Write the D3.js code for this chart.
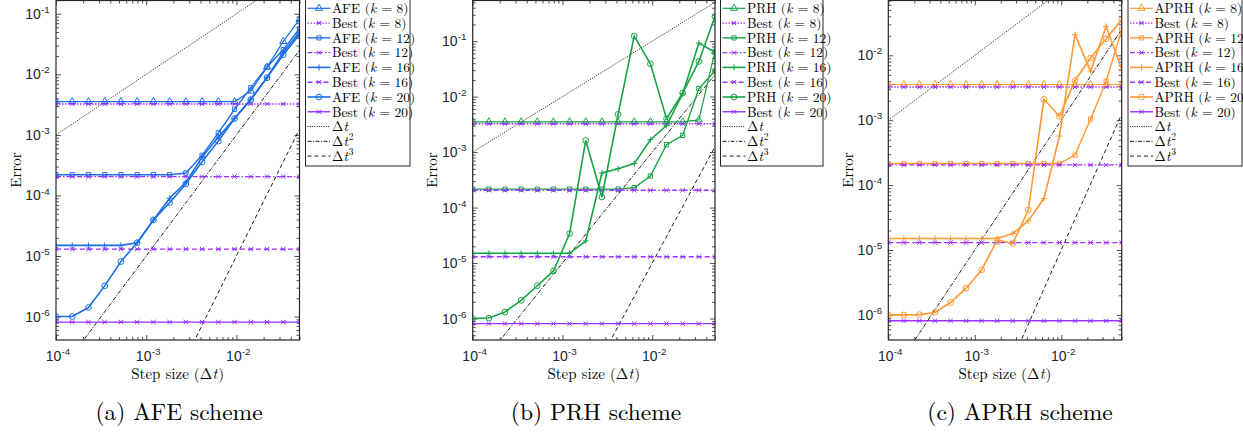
<!DOCTYPE html>
<html>
<head>
<meta charset="utf-8">
<script src="https://cdn.jsdelivr.net/npm/d3@7"></script>
<style>
  body { margin: 0; background: #fff; }
  svg { display: block; }
  .tlab { font-family: "Liberation Sans", Arial, sans-serif; fill: #262626; }
  .serif { font-family: "Latin Modern Roman", "CMU Serif", "Liberation Serif", serif; fill: #000; }
</style>
</head>
<body>
<svg id="fig" width="1243" height="436"></svg>
<script>
// step sizes (dt), 16 points from 1e-4 to 5e-2
var stepSizes = [1.0e-4, 1.513e-4, 2.290e-4, 3.465e-4, 5.244e-4, 7.936e-4, 1.201e-3, 1.817e-3,
                 2.750e-3, 4.162e-3, 6.298e-3, 9.533e-3, 1.443e-2, 2.183e-2, 3.304e-2, 5.0e-2];

var kValues = [8, 12, 16, 20];
// "Best" error level for each k (horizontal lines)
var bestLevels = [3.25e-3, 2.05e-4, 1.3e-5, 8.1e-7];
// reference slopes: 10 * dt^p
var refOrders = [1, 2, 3];
var refCoef = 10;

// AFE scheme
var afe8  = [3.55e-3, 3.55e-3, 3.55e-3, 3.55e-3, 3.55e-3, 3.55e-3, 3.55e-3, 3.55e-3,
             3.55e-3, 3.55e-3, 3.55e-3, 3.55e-3, 5.3e-3, 1.32e-2, 3.5e-2, 8.1e-2];
var afe12 = [2.2e-4, 2.2e-4, 2.2e-4, 2.2e-4, 2.2e-4, 2.2e-4, 2.2e-4, 2.2e-4,
             2.35e-4, 4.6e-4, 1.08e-3, 2.65e-3, 6.0e-3, 1.32e-2, 2.55e-2, 5.66e-2];
var afe16 = [1.5e-5, 1.5e-5, 1.5e-5, 1.5e-5, 1.5e-5, 1.66e-5, 3.94e-5, 9.0e-5,
             1.65e-4, 4.3e-4, 9.2e-4, 1.86e-3, 3.9e-3, 8.9e-3, 2.33e-2, 4.98e-2];
var afe20 = [1.0e-6, 1.0e-6, 1.41e-6, 3.21e-6, 8.1e-6, 1.66e-5, 3.94e-5, 7.6e-5,
             1.55e-4, 3.6e-4, 7.9e-4, 1.86e-3, 3.8e-3, 8.8e-3, 2.11e-2, 4.56e-2];

// PRH scheme
var prh8  = [3.5e-3, 3.5e-3, 3.5e-3, 3.5e-3, 3.5e-3, 3.5e-3, 3.5e-3, 3.5e-3,
             3.5e-3, 3.5e-3, 3.5e-3, 3.5e-3, 3.5e-3, 3.5e-3, 3.8e-3, 6.5e-2];
var prh12 = [2.15e-4, 2.15e-4, 2.15e-4, 2.15e-4, 2.15e-4, 2.15e-4, 2.15e-4, 2.15e-4,
             2.15e-4, 2.15e-4, 2.28e-4, 3.7e-4, 1.36e-3, 2.0e-3, 1.4e-2, 2.9e-2];
var prh16 = [1.5e-5, 1.5e-5, 1.5e-5, 1.5e-5, 1.5e-5, 1.5e-5, 1.5e-5, 2.5e-5,
             4.2e-4, 5.0e-4, 6.2e-4, 1.67e-3, 3.0e-3, 1.13e-2, 9.2e-2, 6.3e-2];
var prh20 = [1.0e-6, 1.02e-6, 1.31e-6, 2.13e-6, 3.9e-6, 7.2e-6, 3.4e-5, 1.62e-3,
             1.55e-4, 4.8e-3, 1.23e-1, 3.9e-2, 4.0e-3, 1.16e-2, 4.3e-2, 2.8e-1];

// APRH scheme
var aprh8  = [3.55e-3, 3.55e-3, 3.55e-3, 3.55e-3, 3.55e-3, 3.55e-3, 3.55e-3, 3.55e-3,
              3.55e-3, 3.55e-3, 3.55e-3, 3.55e-3, 3.55e-3, 3.55e-3, 3.55e-3, 3.55e-3];
var aprh12 = [2.15e-4, 2.15e-4, 2.15e-4, 2.15e-4, 2.15e-4, 2.15e-4, 2.15e-4, 2.15e-4,
              2.15e-4, 2.15e-4, 2.15e-4, 2.15e-4, 2.9e-4, 1.04e-3, 4.0e-3, 2.48e-2];
var aprh16 = [1.5e-5, 1.5e-5, 1.5e-5, 1.5e-5, 1.5e-5, 1.5e-5, 1.5e-5, 1.5e-5,
              1.8e-5, 2.8e-5, 6.2e-5, 5.7e-4, 2.08e-2, 5.7e-3, 2.8e-2, 6.1e-3];
var aprh20 = [1.0e-6, 1.0e-6, 1.01e-6, 1.09e-6, 1.55e-6, 2.58e-6, 4.92e-6, 1.43e-5,
              1.26e-5, 4.12e-5, 2.1e-3, 1.15e-3, 4.1e-3, 9.1e-3, 1.8e-2, 3.53e-2];

var purple = "#9933ff";
var axisColor = "#262626";

var panels = [
    {name: "AFE", color: "#1a6fe8", series: [afe8, afe12, afe16, afe20],
     left: 56, right: 299.5, yDomain: [4.1e-7, 0.166],
     legendX: 305.5, legendW: 104.5, caption: "(a) AFE scheme", capX: 179, ylabX: 16},
    {name: "PRH", color: "#17a345", series: [prh8, prh12, prh16, prh20],
     left: 472.7, right: 715, yDomain: [4.1e-7, 0.54],
     legendX: 720.5, legendW: 102.5, caption: "(b) PRH scheme", capX: 596, ylabX: 432},
    {name: "APRH", color: "#ff9933", series: [aprh8, aprh12, aprh16, aprh20],
     left: 888.3, right: 1121.7, yDomain: [4.1e-7, 0.07],
     legendX: 1128, legendW: 114, caption: "(c) APRH scheme", capX: 1020, ylabX: 848}
];

var plotTop = 0.5, plotBottom = 340;

var markerShapes = ["triangle", "square", "plus", "circle"];
var bestDash = ["1.5,1.5", "5,2,1.5,2", "5,3", null];
var methodWidth = [1.2, 1.4, 1.6, 1.6];
var refDash = ["1,1.3", "4,1.5,1,1.5", "4,3"];

var svg = d3.select("#fig");

function markerPath(shape) {
    if (shape === "triangle") return d3.symbol().type(d3.symbolTriangle).size(22)();
    if (shape === "square") return d3.symbol().type(d3.symbolSquare).size(18)();
    if (shape === "circle") return d3.symbol().type(d3.symbolCircle).size(26)();
    if (shape === "plus") return "M-3,0H3M0,-3V3";
    // best marker: small asterisk
    return "M-2.2,-2.2L2.2,2.2M-2.2,2.2L2.2,-2.2M-2.6,0H2.6";
}

// text made of pieces (italic / superscript), each piece its own <text>
function richText(parent, cls, x, y, anchor, size, pieces) {
    var grp = parent.append("g");
    var cx = 0;
    pieces.forEach(function (pc) {
        var fs = pc.sup ? size * 0.7 : size;
        var t = grp.append("text").attr("class", cls)
            .attr("x", cx).attr("y", pc.sup ? -size * 0.42 : 0)
            .attr("font-size", fs)
            .attr("font-style", pc.italic ? "italic" : null)
            .style("white-space", "pre")
            .text(pc.t);
        cx += t.node().getComputedTextLength() + (pc.italic ? 0.8 : 0.2);
    });
    var off = anchor === "end" ? -cx : anchor === "middle" ? -cx / 2 : 0;
    grp.attr("transform", "translate(" + (x + off) + "," + y + ")");
    return grp;
}

function drawPanel(p, idx) {
    var g = svg.append("g");
    var x = d3.scaleLog().domain([1e-4, 0.05]).range([p.left, p.right]);
    var y = d3.scaleLog().domain(p.yDomain).range([plotBottom, plotTop]);

    var clipId = "clip" + idx;
    svg.append("clipPath").attr("id", clipId).append("rect")
        .attr("x", p.left).attr("y", plotTop)
        .attr("width", p.right - p.left).attr("height", plotBottom - plotTop);

    // ticks
    var xt = x.ticks(), yt = y.ticks();
    var isMajor = function (v) { return Math.abs(Math.log10(v) - Math.round(Math.log10(v))) < 1e-9; };
    var xMaj = xt.filter(isMajor), xMin = xt.filter(function (v) { return !isMajor(v); });
    var yMaj = yt.filter(isMajor), yMin = yt.filter(function (v) { return !isMajor(v); });

    function addAxis(axis, vals, size, tr) {
        var a = g.append("g").attr("transform", tr)
            .call(axis.tickValues(vals).tickSize(size).tickFormat(""));
        a.select(".domain").remove();
        a.selectAll("line").attr("stroke", axisColor).attr("stroke-width", 0.8);
    }
    addAxis(d3.axisBottom(x), xMaj, -5, "translate(0," + plotBottom + ")");
    addAxis(d3.axisBottom(x), xMin, -3, "translate(0," + plotBottom + ")");
    addAxis(d3.axisTop(x), xMaj, -5, "translate(0," + plotTop + ")");
    addAxis(d3.axisTop(x), xMin, -3, "translate(0," + plotTop + ")");
    addAxis(d3.axisLeft(y), yMaj, -5, "translate(" + p.left + ",0)");
    addAxis(d3.axisLeft(y), yMin, -3, "translate(" + p.left + ",0)");
    addAxis(d3.axisRight(y), yMaj, -5, "translate(" + p.right + ",0)");
    addAxis(d3.axisRight(y), yMin, -3, "translate(" + p.right + ",0)");

    // tick labels
    xMaj.forEach(function (v) {
        richText(g, "tlab", x(v) + 2, plotBottom + 21, "middle", 14,
            [{t: "10"}, {t: String(Math.round(Math.log10(v))), sup: true}]);
    });
    yMaj.forEach(function (v) {
        richText(g, "tlab", p.left - 6, y(v) + 5, "end", 14,
            [{t: "10"}, {t: String(Math.round(Math.log10(v))), sup: true}]);
    });

    var plot = g.append("g").attr("clip-path", "url(#" + clipId + ")");
    var line = d3.line().x(function (d) { return x(d[0]); }).y(function (d) { return y(d[1]); });

    // reference slopes
    refOrders.forEach(function (o, i) {
        var pts = [stepSizes[0], stepSizes[stepSizes.length - 1]].map(function (s) {
            return [s, refCoef * Math.pow(s, o)];
        });
        plot.append("path").attr("d", line(pts)).attr("fill", "none")
            .attr("stroke", "#000").attr("stroke-width", 0.9)
            .attr("stroke-dasharray", refDash[i]);
    });

    // method and best series, in legend order
    kValues.forEach(function (k, i) {
        var mPts = stepSizes.map(function (s, j) { return [s, p.series[i][j]]; });
        var bPts = stepSizes.map(function (s) { return [s, bestLevels[i]]; });

        plot.append("path").attr("d", line(mPts)).attr("fill", "none")
            .attr("stroke", p.color).attr("stroke-width", methodWidth[i]);
        plot.selectAll(null).data(mPts).enter().append("path")
            .attr("transform", function (d) { return "translate(" + x(d[0]) + "," + y(d[1]) + ")"; })
            .attr("d", markerPath(markerShapes[i]))
            .attr("fill", "none").attr("stroke", p.color).attr("stroke-width", 1);

        plot.append("path").attr("d", line(bPts)).attr("fill", "none")
            .attr("stroke", purple).attr("stroke-width", 1.4)
            .attr("stroke-dasharray", bestDash[i]);
        plot.selectAll(null).data(bPts).enter().append("path")
            .attr("transform", function (d) { return "translate(" + x(d[0]) + "," + y(d[1]) + ")"; })
            .attr("d", markerPath("best"))
            .attr("fill", "none").attr("stroke", purple).attr("stroke-width", 1);
    });

    // frame
    g.append("rect").attr("x", p.left).attr("y", plotTop)
        .attr("width", p.right - p.left).attr("height", plotBottom - plotTop)
        .attr("fill", "none").attr("stroke", axisColor).attr("stroke-width", 1.2);

    // axis titles
    richText(g, "serif", (p.left + p.right) / 2, 379, "middle", 15,
        [{t: "Step size (\u0394"}, {t: "t", italic: true}, {t: ")"}]);

    g.append("text").attr("class", "serif").attr("text-anchor", "middle")
        .attr("font-size", 15)
        .attr("transform", "translate(" + (p.ylabX + 5) + ",170) rotate(-90)")
        .text("Error");

    // legend
    var lg = g.append("g");
    lg.append("rect").attr("x", p.legendX).attr("y", -1)
        .attr("width", p.legendW).attr("height", 167)
        .attr("fill", "#fff").attr("stroke", axisColor).attr("stroke-width", 1);

    var rows = [];
    kValues.forEach(function (k, i) {
        rows.push({label: p.name, k: k, color: p.color, dash: null, width: methodWidth[i], marker: markerShapes[i]});
        rows.push({label: "Best", k: k, color: purple, dash: bestDash[i], width: 1.4, marker: "best"});
    });
    refOrders.forEach(function (o, i) {
        rows.push({label: "ref", order: o, color: "#000", dash: refDash[i], width: 0.9, marker: null});
    });

    rows.forEach(function (r, i) {
        var ry = 8.3 + i * 14.78;
        var x0 = p.legendX + 2, x1 = p.legendX + 25;
        lg.append("line").attr("x1", x0).attr("x2", x1).attr("y1", ry).attr("y2", ry)
            .attr("stroke", r.color).attr("stroke-width", r.width)
            .attr("stroke-dasharray", r.dash);
        if (r.marker) {
            lg.append("path").attr("transform", "translate(" + ((x0 + x1) / 2) + "," + ry + ")")
                .attr("d", markerPath(r.marker))
                .attr("fill", "none").attr("stroke", r.color).attr("stroke-width", 1);
        }
        var pieces;
        if (r.label === "ref") {
            pieces = [{t: "\u0394"}, {t: "t", italic: true}];
            if (r.order > 1) pieces.push({t: String(r.order), sup: true});
        } else {
            pieces = [{t: r.label + " ("}, {t: "k", italic: true}, {t: " = " + r.k + ")"}];
        }
        richText(lg, "serif", x1 + 1.5, ry + 4.8, "start", 13.5, pieces);
    });

    // caption
    g.append("text").attr("class", "serif").attr("text-anchor", "middle")
        .attr("x", p.capX).attr("y", 420).attr("font-size", 23.5)
        .text(p.caption);
}

panels.forEach(drawPanel);
</script>
</body>
</html>
